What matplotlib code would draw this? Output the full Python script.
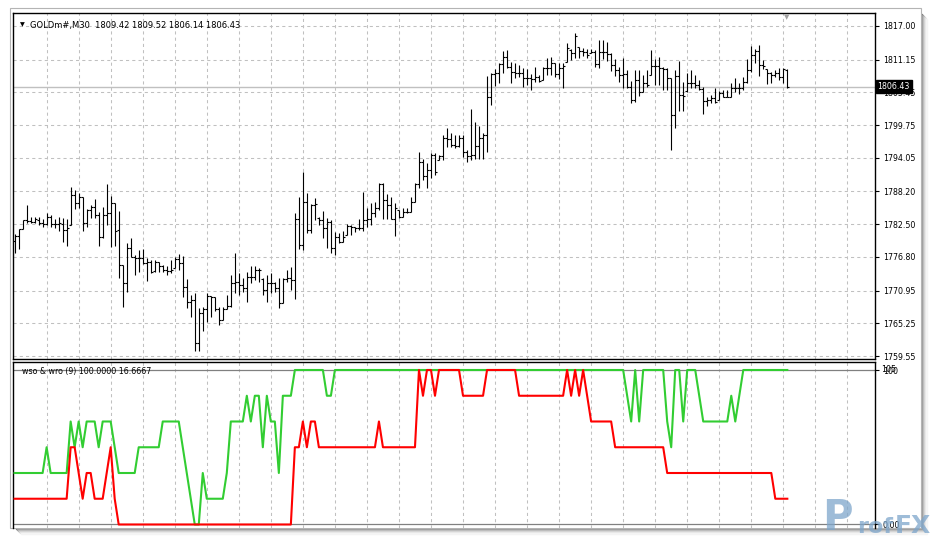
import matplotlib.pyplot as plt
import numpy as np

plt.rcParams["font.family"] = ["DejaVu Sans"]

# GOLDm#, M30
opens = [1779.50, 1780.40, 1781.60, 1783.20, 1783.10, 1782.90, 1783.30, 1782.70, 1782.50, 1783.70,
         1782.50, 1782.50, 1782.60, 1781.50, 1782.40, 1787.60, 1786.10, 1787.20, 1782.70, 1785.00,
         1785.50, 1784.10, 1780.30, 1784.10, 1784.40, 1786.10, 1781.40, 1775.39, 1772.30, 1778.30,
         1776.80, 1776.60, 1776.60, 1775.80, 1776.00, 1774.30, 1775.90, 1775.20, 1774.50, 1774.40,
         1774.90, 1776.40, 1775.70, 1771.60, 1769.00, 1769.30, 1761.80, 1767.00, 1767.70, 1769.99,
         1769.76, 1767.70, 1765.81, 1767.70, 1768.25, 1772.30, 1772.49, 1771.91, 1771.33, 1773.36,
         1773.36, 1774.52, 1773.00, 1771.04, 1772.20, 1772.20, 1771.33, 1768.83, 1772.90, 1773.07,
         1772.78, 1783.34, 1778.87, 1786.42, 1781.49, 1785.84, 1783.50, 1783.23, 1781.78, 1782.94,
         1778.30, 1780.33, 1779.46, 1780.62, 1782.19, 1782.00, 1781.78, 1781.78, 1783.23, 1783.35,
         1784.39, 1785.26, 1789.50, 1786.71, 1785.84, 1783.35, 1784.90, 1783.81, 1784.68, 1784.68,
         1786.42, 1789.50, 1793.39, 1790.89, 1791.94, 1794.55, 1793.70, 1794.37, 1797.45, 1797.28,
         1796.29, 1796.11, 1797.45, 1795.13, 1794.37, 1794.55, 1796.11, 1797.45, 1798.03, 1804.59,
         1808.65, 1808.88, 1810.39, 1811.67, 1809.93, 1809.06, 1808.88, 1808.88, 1807.89, 1807.89,
         1807.72, 1808.07, 1807.60, 1809.64, 1809.64, 1810.51, 1808.65, 1809.64, 1810.80, 1812.90,
         1812.25, 1813.40, 1812.71, 1812.54, 1812.25, 1812.54, 1810.39, 1812.54, 1812.54, 1812.07,
         1810.22, 1809.35, 1808.48, 1808.65, 1806.44, 1804.12, 1807.60, 1805.57, 1807.02, 1808.48,
         1810.04, 1810.04, 1809.64, 1809.46, 1807.89, 1801.51, 1808.30, 1804.99, 1805.60, 1807.14,
         1807.14, 1806.73, 1805.98, 1804.01, 1804.12, 1804.41, 1804.20, 1805.28, 1804.59, 1804.70,
         1806.15, 1806.15, 1806.15, 1807.31, 1809.35, 1811.96, 1812.71, 1810.22, 1809.46, 1808.88,
         1808.48, 1808.88, 1808.18, 1809.42]
highs = [1780.79, 1781.60, 1783.23, 1785.84, 1783.69, 1783.69, 1783.69, 1783.34, 1784.39, 1784.10,
         1783.34, 1783.69, 1783.52, 1783.34, 1788.91, 1788.45, 1787.87, 1787.29, 1785.08, 1785.84,
         1786.82, 1784.68, 1785.43, 1789.49, 1787.40, 1786.24, 1784.85, 1775.39, 1779.16, 1780.04,
         1777.13, 1778.00, 1778.12, 1776.55, 1776.26, 1776.26, 1775.97, 1775.39, 1775.22, 1776.26,
         1776.84, 1777.31, 1776.96, 1772.90, 1770.17, 1770.58, 1767.85, 1768.14, 1770.58, 1769.99,
         1769.76, 1768.14, 1768.14, 1770.17, 1773.65, 1777.42, 1773.94, 1773.07, 1774.23, 1775.22,
         1775.22, 1774.81, 1773.07, 1773.65, 1773.94, 1772.49, 1773.07, 1773.07, 1774.52, 1775.10,
         1784.39, 1787.29, 1791.65, 1787.87, 1786.02, 1787.00, 1783.81, 1784.86, 1783.52, 1783.23,
         1781.20, 1780.91, 1781.38, 1782.54, 1782.36, 1782.07, 1783.35, 1788.16, 1785.26, 1786.13,
         1786.42, 1789.62, 1789.62, 1787.76, 1787.29, 1786.13, 1784.97, 1785.26, 1785.26, 1787.29,
         1789.62, 1795.13, 1793.79, 1793.10, 1794.84, 1794.84, 1794.55, 1798.03, 1799.19, 1798.32,
         1798.03, 1798.03, 1798.03, 1795.42, 1802.50, 1800.35, 1799.60, 1798.32, 1808.30, 1808.77,
         1809.46, 1810.51, 1812.71, 1812.83, 1810.80, 1810.62, 1810.22, 1809.64, 1809.46, 1808.65,
         1809.93, 1808.48, 1809.93, 1811.38, 1811.55, 1810.51, 1810.51, 1810.51, 1814.10, 1812.94,
         1815.84, 1813.41, 1813.12, 1812.94, 1812.94, 1812.83, 1814.57, 1814.57, 1814.28, 1812.25,
         1811.20, 1809.93, 1811.38, 1809.35, 1807.49, 1809.35, 1809.35, 1808.48, 1809.35, 1812.83,
         1811.20, 1811.55, 1809.93, 1809.64, 1807.89, 1809.35, 1810.97, 1807.31, 1808.77, 1809.35,
         1808.48, 1807.60, 1806.44, 1804.59, 1804.99, 1806.15, 1805.75, 1805.86, 1805.86, 1807.02,
         1807.89, 1807.02, 1808.18, 1811.20, 1813.52, 1812.94, 1813.70, 1811.09, 1809.46, 1809.06,
         1809.35, 1809.64, 1809.64, 1809.52]
lows = [1777.54, 1778.24, 1781.60, 1782.65, 1782.65, 1782.76, 1782.36, 1782.07, 1782.36, 1782.07,
        1781.78, 1781.37, 1779.45, 1778.70, 1782.36, 1785.08, 1785.26, 1781.37, 1782.07, 1783.52,
        1783.52, 1778.70, 1780.04, 1782.36, 1778.58, 1778.70, 1773.07, 1768.14, 1770.75, 1776.84,
        1773.65, 1774.23, 1775.57, 1772.66, 1774.06, 1774.23, 1774.23, 1774.23, 1773.65, 1773.94,
        1774.81, 1774.52, 1769.88, 1767.85, 1766.28, 1760.48, 1760.48, 1763.96, 1765.52, 1766.40,
        1767.44, 1764.94, 1765.81, 1767.67, 1768.14, 1770.46, 1770.17, 1770.75, 1769.01, 1772.20,
        1772.78, 1772.49, 1770.17, 1769.01, 1770.46, 1770.75, 1767.85, 1768.72, 1772.49, 1771.04,
        1769.42, 1778.12, 1778.01, 1780.91, 1781.03, 1783.23, 1782.36, 1780.04, 1778.30, 1777.55,
        1777.14, 1779.29, 1779.46, 1780.62, 1780.62, 1781.20, 1781.49, 1781.38, 1782.07, 1782.36,
        1783.81, 1784.97, 1783.35, 1783.35, 1783.35, 1780.45, 1783.52, 1783.81, 1784.51, 1784.68,
        1786.42, 1788.75, 1790.20, 1788.75, 1790.49, 1791.07, 1793.68, 1793.68, 1796.00, 1795.88,
        1795.71, 1796.00, 1794.26, 1793.39, 1793.68, 1793.79, 1793.79, 1793.79, 1795.13, 1803.25,
        1806.56, 1807.14, 1808.77, 1809.64, 1807.02, 1807.89, 1808.18, 1806.44, 1806.73, 1805.86,
        1807.31, 1807.31, 1807.60, 1808.48, 1808.48, 1808.07, 1807.72, 1806.15, 1810.80, 1811.09,
        1811.38, 1811.38, 1811.78, 1811.38, 1812.25, 1809.93, 1809.64, 1811.20, 1810.97, 1809.23,
        1808.30, 1807.31, 1806.15, 1806.15, 1803.54, 1803.83, 1804.82, 1805.57, 1806.44, 1808.48,
        1806.73, 1806.73, 1805.86, 1805.86, 1795.42, 1799.19, 1802.27, 1802.27, 1805.57, 1806.15,
        1806.15, 1805.86, 1801.69, 1803.08, 1803.66, 1803.66, 1804.12, 1804.59, 1804.59, 1804.59,
        1805.57, 1805.17, 1805.86, 1807.14, 1809.06, 1810.51, 1808.30, 1809.46, 1806.91, 1807.02,
        1808.18, 1807.60, 1807.14, 1806.14]
closes = [1780.44, 1781.60, 1783.23, 1783.11, 1782.94, 1783.34, 1782.65, 1782.53, 1783.69, 1782.53,
          1782.53, 1782.65, 1781.49, 1781.78, 1787.58, 1786.13, 1787.29, 1782.65, 1784.97, 1785.55,
          1784.10, 1780.32, 1784.10, 1784.39, 1786.13, 1781.37, 1775.39, 1772.32, 1778.29, 1776.84,
          1776.55, 1776.55, 1775.80, 1775.97, 1774.23, 1775.97, 1775.22, 1774.52, 1774.40, 1774.52,
          1776.38, 1775.68, 1771.62, 1769.01, 1769.30, 1761.76, 1766.98, 1767.67, 1769.99, 1769.76,
          1767.67, 1765.81, 1767.67, 1768.25, 1772.32, 1772.49, 1771.91, 1771.33, 1773.36, 1773.36,
          1774.52, 1774.52, 1771.04, 1772.20, 1772.20, 1771.33, 1768.83, 1772.90, 1773.07, 1772.78,
          1783.34, 1778.87, 1786.42, 1781.49, 1785.84, 1786.02, 1783.23, 1781.78, 1782.94, 1778.30,
          1780.33, 1779.46, 1780.33, 1782.19, 1782.07, 1781.78, 1781.78, 1783.23, 1783.35, 1784.39,
          1785.26, 1789.50, 1786.71, 1785.84, 1783.35, 1785.26, 1783.81, 1784.68, 1784.68, 1786.42,
          1789.50, 1793.39, 1790.89, 1791.94, 1794.55, 1791.65, 1794.37, 1797.45, 1797.28, 1796.29,
          1796.11, 1797.45, 1795.13, 1794.37, 1794.55, 1796.11, 1797.45, 1798.03, 1804.59, 1808.65,
          1808.88, 1810.39, 1811.67, 1809.93, 1809.06, 1808.88, 1808.88, 1807.89, 1807.89, 1807.72,
          1808.07, 1807.49, 1809.64, 1809.64, 1810.51, 1808.65, 1809.64, 1810.04, 1813.12, 1812.25,
          1815.26, 1812.71, 1812.54, 1811.96, 1812.54, 1810.39, 1812.54, 1812.54, 1812.07, 1810.22,
          1809.35, 1808.48, 1808.65, 1806.44, 1804.12, 1807.60, 1805.57, 1807.02, 1806.73, 1810.04,
          1810.04, 1809.64, 1809.46, 1807.89, 1801.51, 1808.30, 1804.99, 1804.82, 1807.14, 1807.14,
          1806.73, 1805.98, 1804.01, 1804.12, 1804.41, 1803.83, 1805.28, 1804.59, 1804.70, 1806.15,
          1806.15, 1806.15, 1807.31, 1809.35, 1811.96, 1812.71, 1810.22, 1810.04, 1808.88, 1808.48,
          1808.88, 1808.18, 1809.46, 1806.43]

# wso & wro (9)
wso = [33.33, 33.33, 33.33, 33.33, 33.33, 33.33, 33.33, 33.33, 50, 33.33,
       33.33, 33.33, 33.33, 33.33, 66.67, 50, 66.67, 50, 66.67, 66.67,
       66.67, 50, 66.67, 66.67, 66.67, 50, 33.33, 33.33, 33.33, 33.33,
       33.33, 50, 50, 50, 50, 50, 50, 66.67, 66.67, 66.67,
       66.67, 66.67, 50, 33.33, 16.67, 0, 0, 33.33, 16.67, 16.67,
       16.67, 16.67, 16.67, 33.33, 66.67, 66.67, 66.67, 66.67, 83.33, 66.67,
       83.33, 83.33, 50, 83.33, 66.67, 66.67, 33.33, 83.33, 83.33, 83.33,
       100, 100, 100, 100, 100, 100, 100, 100, 83.33, 83.33,
       100, 100, 100, 100, 100, 100, 100, 100, 100, 100,
       100, 100, 100, 100, 100, 100, 100, 100, 100, 100,
       100, 100, 100, 100, 100, 100, 100, 100, 100, 100,
       100, 100, 100, 100, 100, 100, 100, 100, 100, 100,
       100, 100, 100, 100, 100, 100, 100, 100, 100, 100,
       100, 100, 100, 100, 100, 100, 100, 100, 100, 100,
       100, 100, 100, 100, 100, 100, 100, 100, 100, 100,
       100, 100, 100, 83.33, 66.67, 100, 66.67, 100, 100, 100,
       100, 100, 100, 66.67, 50, 100, 100, 66.67, 100, 100,
       100, 83.33, 66.67, 66.67, 66.67, 66.67, 66.67, 66.67, 66.67, 83.33,
       66.67, 83.33, 100, 100, 100, 100, 100, 100, 100, 100,
       100, 100, 100, 100]
wro = [16.67, 16.67, 16.67, 16.67, 16.67, 16.67, 16.67, 16.67, 16.67, 16.67,
       16.67, 16.67, 16.67, 16.67, 50, 50, 33.33, 16.67, 33.33, 33.33,
       16.67, 16.67, 16.67, 33.33, 50, 16.67, 0, 0, 0, 0,
       0, 0, 0, 0, 0, 0, 0, 0, 0, 0,
       0, 0, 0, 0, 0, 0, 0, 0, 0, 0,
       0, 0, 0, 0, 0, 0, 0, 0, 0, 0,
       0, 0, 0, 0, 0, 0, 0, 0, 0, 0,
       50, 50, 66.67, 50, 66.67, 66.67, 50, 50, 50, 50,
       50, 50, 50, 50, 50, 50, 50, 50, 50, 50,
       50, 66.67, 50, 50, 50, 50, 50, 50, 50, 50,
       50, 100, 83.33, 100, 100, 83.33, 100, 100, 100, 100,
       100, 100, 83.33, 83.33, 83.33, 83.33, 83.33, 83.33, 100, 100,
       100, 100, 100, 100, 100, 100, 83.33, 83.33, 83.33, 83.33,
       83.33, 83.33, 83.33, 83.33, 83.33, 83.33, 83.33, 83.33, 100, 83.33,
       100, 83.33, 100, 83.33, 66.67, 66.67, 66.67, 66.67, 66.67, 66.67,
       50, 50, 50, 50, 50, 50, 50, 50, 50, 50,
       50, 50, 50, 33.33, 33.33, 33.33, 33.33, 33.33, 33.33, 33.33,
       33.33, 33.33, 33.33, 33.33, 33.33, 33.33, 33.33, 33.33, 33.33, 33.33,
       33.33, 33.33, 33.33, 33.33, 33.33, 33.33, 33.33, 33.33, 33.33, 33.33,
       16.67, 16.67, 16.67, 16.67]

price_ticks = [1817.00, 1811.15, 1805.45, 1799.75, 1794.05, 1788.20,
               1782.50, 1776.80, 1770.95, 1765.25, 1759.55]

W, H = 934, 540
fig = plt.figure(figsize=(W / 100, H / 100), dpi=100)


def px_rect(x0, y0, x1, y1, **kw):
    # rectangle given in picture pixels, top-left origin
    return plt.Rectangle((x0 / W, 1 - y1 / H), (x1 - x0) / W, (y1 - y0) / H,
                         transform=fig.transFigure, **kw)


# window frame and shadow
fig.patches.append(px_rect(10, 8, 921, 528, facecolor="white", edgecolor="#b4b4b4", lw=0.8, zorder=-3))
for k, c in enumerate(["#7a7a7a", "#9a9a9a", "#b8b8b8", "#d2d2d2", "#e6e6e6", "#f4f4f4"]):
    fig.patches.append(px_rect(921 + k, 14 + k, 922.3 + k, 528 + k, color=c, zorder=-4))
    fig.patches.append(px_rect(16 + k, 528 + k, 922.3 + k, 529.3 + k, color=c, zorder=-4))

grid_kw = dict(color="#c0c0c0", linestyle=(0, (3, 3)), linewidth=0.75)
x = np.arange(len(closes))
xlim = (-0.4, 214.9)

# price pane
ax = fig.add_axes([13 / W, 1 - 359 / H, 862 / W, 346 / H])
ax.vlines(x, lows, highs, color="black", lw=0.8)
ax.hlines(opens, x - 0.5, x, color="black", lw=0.8)
ax.hlines(closes, x, x + 0.5, color="black", lw=0.8)
ax.axhline(closes[-1], color="#c0c0c0", lw=1.0, zorder=0)
ax.set_xlim(*xlim)
ax.set_ylim(1759.03, 1819.26)
ax.set_xticks(np.arange(8, 215, 8))
ax.set_yticks(price_ticks)
ax.set_yticklabels([f"{t:.2f}" for t in price_ticks])
ax.yaxis.tick_right()
ax.tick_params(axis="y", length=3, width=0.8, pad=2.5, labelsize=5.7)
ax.tick_params(axis="x", bottom=False, labelbottom=False)
ax.grid(True, **grid_kw)
ax.set_axisbelow(True)
for s in ax.spines.values():
    s.set_color("black")
    s.set_linewidth(1.0)
ax.text(0.008, 0.973, "▼", transform=ax.transAxes, fontsize=4.5, va="top", ha="left")
ax.text(0.02, 0.978, "GOLDm#,M30  1809.42 1809.52 1806.14 1806.43", transform=ax.transAxes,
        fontsize=6, va="top", ha="left")
ax.text(1.003, closes[-1], f"{closes[-1]:.2f}", transform=ax.get_yaxis_transform(), fontsize=5.7,
        color="white", va="center", ha="left", zorder=10, clip_on=False,
        bbox=dict(boxstyle="square,pad=0.25", facecolor="black", edgecolor="black"))
ax.text(0.897, 0.996, "▼", transform=ax.transAxes, fontsize=5, color="#a0a0a0", va="top", ha="center")

# indicator pane
ax2 = fig.add_axes([13 / W, 1 - 528 / H, 862 / W, 166 / H])
ax2.axhline(100, color="#808080", lw=0.9, zorder=1)
ax2.axhline(0, color="#808080", lw=0.9, zorder=1)
ax2.plot(x, wso, color="#32cd32", lw=1.5, zorder=3)
ax2.plot(x, wro, color="#ff0000", lw=1.5, zorder=4)
ax2.set_xlim(*xlim)
ax2.set_ylim(-2.27, 105.18)
ax2.set_xticks(np.arange(8, 215, 8))
ax2.set_yticks([100, 0])
ax2.set_yticklabels(["100", "0.00"])
ax2.yaxis.tick_right()
ax2.tick_params(axis="y", length=3, width=0.8, pad=2.5, labelsize=5.7)
ax2.tick_params(axis="x", bottom=False, labelbottom=False)
ax2.grid(True, axis="x", **grid_kw)
ax2.set_axisbelow(True)
for s in ax2.spines.values():
    s.set_color("black")
    s.set_linewidth(1.0)
ax2.spines["bottom"].set_visible(False)
ax2.text(1.0 + 6.5 / 862, 100.5, "105", transform=ax2.get_yaxis_transform(), fontsize=5.7,
         va="center", ha="left", color="black", clip_on=False)
ax2.text(0.01, 0.97, "wso & wro (9) 100.0000 16.6667", transform=ax2.transAxes,
         fontsize=5.7, va="top", ha="left", zorder=6)

# watermark
wm = dict(fontweight="bold", color="#7ea6cb", alpha=0.75, ha="left", va="baseline")
fig.text(822 / W, 1 - 539 / H, "P", fontsize=30, fontweight="bold", color="#7ea6cb", alpha=0.75,
         ha="left", va="bottom")
fig.text(857 / W, 1 - 533 / H, "rof", fontsize=16, **wm)
fig.text(895 / W, 1 - 533 / H, "FX", fontsize=18, **wm)

fig.savefig("out.png", dpi=100)
